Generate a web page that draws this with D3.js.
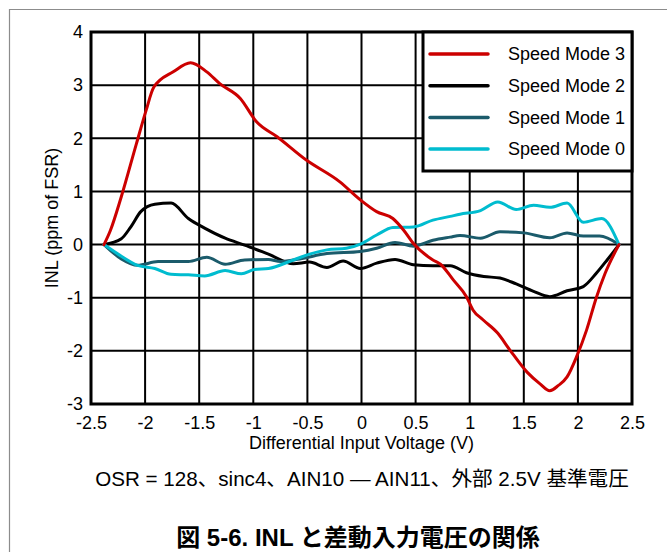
<!DOCTYPE html>
<html>
<head>
<meta charset="utf-8">
<script src="https://cdn.jsdelivr.net/npm/d3@7"></script>
<style>
  body { margin: 0; background: #fff; }
  svg { display: block; }
  text { font-family: "Liberation Sans", Arial, "Noto Sans CJK JP", sans-serif; fill: #000; }
</style>
</head>
<body>
<svg id="chart" width="667" height="552"></svg>
<script>
// INL vs differential input voltage
let xTicks = [-2.5, -2, -1.5, -1, -0.5, 0, 0.5, 1, 1.5, 2, 2.5];
let yTicks = [-3, -2, -1, 0, 1, 2, 3, 4];

let speedMode3 = [[-2.38,0],[-2.32,0.27],[-2.22,0.9],[-2.08,1.9],[-1.99,2.53],[-1.92,2.96],[-1.74,3.25],
    [-1.58,3.42],[-1.43,3.25],[-1.31,3.03],[-1.12,2.75],[-0.97,2.31],[-0.78,2.03],[-0.51,1.59],[-0.2,1.18],
    [-0.01,0.84],[0.14,0.62],[0.29,0.49],[0.39,0.27],[0.48,0.02],[0.66,-0.29],[0.73,-0.37],[0.85,-0.67],
    [0.97,-0.98],[1.03,-1.23],[1.12,-1.41],[1.26,-1.67],[1.37,-1.98],[1.53,-2.4],[1.65,-2.62],[1.74,-2.75],
    [1.82,-2.65],[1.9,-2.49],[1.99,-2.1],[2.08,-1.61],[2.17,-1.0],[2.25,-0.55],[2.38,0]];
let speedMode2 = [[-2.38,0],[-2.22,0.11],[-2.13,0.34],[-2.04,0.62],[-1.91,0.76],[-1.76,0.78],[-1.6,0.49],
    [-1.45,0.31],[-1.26,0.12],[-1.08,-0.01],[-0.86,-0.18],[-0.63,-0.36],[-0.48,-0.33],[-0.32,-0.43],
    [-0.17,-0.31],[-0.01,-0.45],[0.14,-0.35],[0.31,-0.28],[0.48,-0.38],[0.66,-0.4],[0.82,-0.4],[0.97,-0.53],
    [1.13,-0.6],[1.28,-0.63],[1.43,-0.74],[1.59,-0.88],[1.74,-0.98],[1.9,-0.87],[2.05,-0.79],[2.17,-0.54],
    [2.27,-0.29],[2.38,0]];
let speedMode1 = [[-2.38,0],[-2.22,-0.27],[-2.07,-0.39],[-1.88,-0.32],[-1.6,-0.32],[-1.43,-0.24],[-1.26,-0.37],
    [-1.08,-0.29],[-0.86,-0.28],[-0.75,-0.32],[-0.57,-0.27],[-0.32,-0.17],[-0.01,-0.13],[0.14,-0.07],
    [0.31,0.04],[0.48,-0.03],[0.66,0.08],[0.82,0.14],[0.91,0.17],[1.1,0.12],[1.28,0.24],[1.5,0.22],
    [1.74,0.13],[1.9,0.22],[2.05,0.16],[2.2,0.16],[2.38,0]];
let speedMode0 = [[-2.38,0],[-2.25,-0.18],[-2.07,-0.39],[-1.91,-0.45],[-1.76,-0.56],[-1.6,-0.57],[-1.45,-0.59],
    [-1.26,-0.49],[-1.11,-0.55],[-0.99,-0.47],[-0.86,-0.45],[-0.63,-0.29],[-0.48,-0.18],[-0.32,-0.1],
    [-0.14,-0.07],[-0.01,0.01],[0.14,0.18],[0.29,0.32],[0.48,0.33],[0.66,0.46],[0.82,0.53],[0.91,0.57],
    [1.1,0.64],[1.26,0.8],[1.43,0.66],[1.59,0.74],[1.74,0.7],[1.9,0.78],[2.05,0.42],[2.22,0.49],[2.38,0]];

let seriesNames = ["Speed Mode 3", "Speed Mode 2", "Speed Mode 1", "Speed Mode 0"];
let seriesData = [speedMode3, speedMode2, speedMode1, speedMode0];
let colors = ["#cc0000", "#000000", "#1b5b6b", "#00bccf"];

let xTitle = "Differential Input Voltage (V)";
let yTitle = "INL (ppm of FSR)";
let caption = "OSR = 128、sinc4、AIN10 — AIN11、外部 2.5V 基準電圧";
let figTitle = "図 5-6. INL と差動入力電圧の関係";

let svg = d3.select("#chart"),
    margin = {top: 32, right: 35, bottom: 148, left: 91},
    width = +svg.attr("width") - margin.left - margin.right,
    height = +svg.attr("height") - margin.top - margin.bottom;

// grey frame around the figure
svg.append("path")
    .attr("d", "M9.5,552V9.5H667")
    .attr("fill", "none")
    .attr("stroke", "#8c8c8c")
    .attr("stroke-width", 1.2);

let x = d3.scaleLinear().domain([-2.5, 2.5]).range([0, width]);
let y = d3.scaleLinear().domain([-3, 4]).range([height, 0]);

let g = svg.append("g")
    .attr("transform", "translate(" + margin.left + "," + margin.top + ")");

// grid
g.append("g")
    .selectAll("line.vgrid")
    .data(xTicks)
    .enter().append("line")
    .attr("x1", d => x(d)).attr("x2", d => x(d))
    .attr("y1", 0).attr("y2", height)
    .attr("stroke", "#000").attr("stroke-width", 2);

g.append("g")
    .selectAll("line.hgrid")
    .data(yTicks)
    .enter().append("line")
    .attr("y1", d => y(d)).attr("y2", d => y(d))
    .attr("x1", 0).attr("x2", width)
    .attr("stroke", "#000").attr("stroke-width", 2);

// axes (labels only), plain hyphen for minus like the original
let fmt = d => d3.format("~g")(d).replace("\u2212", "-");
let xAxis = d3.axisBottom(x).tickValues(xTicks).tickSize(0).tickPadding(12).tickFormat(fmt);
let yAxis = d3.axisLeft(y).tickValues(yTicks).tickSize(0).tickPadding(8).tickFormat(fmt);

g.append("g")
    .attr("transform", "translate(0," + height + ")")
    .call(xAxis)
    .call(a => a.select(".domain").remove())
    .selectAll("text")
    .attr("font-size", 18)
    .attr("font-family", null);

g.append("g")
    .call(yAxis)
    .call(a => a.select(".domain").remove())
    .selectAll("text")
    .attr("font-size", 18)
    .attr("font-family", null);

// curves
let line = d3.line()
    .x(d => x(d[0]))
    .y(d => y(d[1]))
    .curve(d3.curveMonotoneX);

let drawOrder = [1, 2, 3, 0];
drawOrder.forEach(i => {
    g.append("path")
        .datum(seriesData[i])
        .attr("fill", "none")
        .attr("stroke", colors[i])
        .attr("stroke-width", 3)
        .attr("stroke-linejoin", "round")
        .attr("stroke-linecap", "round")
        .attr("d", line);
});

// plot frame
g.append("rect")
    .attr("width", width)
    .attr("height", height)
    .attr("fill", "none")
    .attr("stroke", "#000")
    .attr("stroke-width", 3);

// legend
let legW = 209, legH = 139;
let legend = g.append("g")
    .attr("transform", "translate(" + (width - legW) + ",0)");

legend.append("rect")
    .attr("width", legW)
    .attr("height", legH)
    .attr("fill", "#fff")
    .attr("stroke", "#000")
    .attr("stroke-width", 3);

seriesNames.forEach((name, i) => {
    let ly = 22 + i * 31.7;
    legend.append("line")
        .attr("x1", 7).attr("x2", 65)
        .attr("y1", ly).attr("y2", ly)
        .attr("stroke", colors[i])
        .attr("stroke-width", 3.5)
        .attr("stroke-linecap", "round");
    legend.append("text")
        .attr("x", 85)
        .attr("y", ly)
        .attr("dy", "0.35em")
        .attr("font-size", 18)
        .text(name);
});

// axis titles
svg.append("text")
    .attr("x", margin.left + width / 2)
    .attr("y", 449)
    .attr("text-anchor", "middle")
    .attr("font-size", 18)
    .text(xTitle);

svg.append("text")
    .attr("transform", "translate(58," + (margin.top + height / 2) + ") rotate(-90)")
    .attr("text-anchor", "middle")
    .attr("font-size", 18)
    .text(yTitle);

// caption and figure title
svg.append("text")
    .attr("x", 362)
    .attr("y", 486)
    .attr("text-anchor", "middle")
    .attr("font-size", 20.6)
    .text(caption);

svg.append("text")
    .attr("x", 358)
    .attr("y", 546)
    .attr("text-anchor", "middle")
    .attr("font-size", 24)
    .attr("font-weight", "bold")
    .text(figTitle);
</script>
</body>
</html>
